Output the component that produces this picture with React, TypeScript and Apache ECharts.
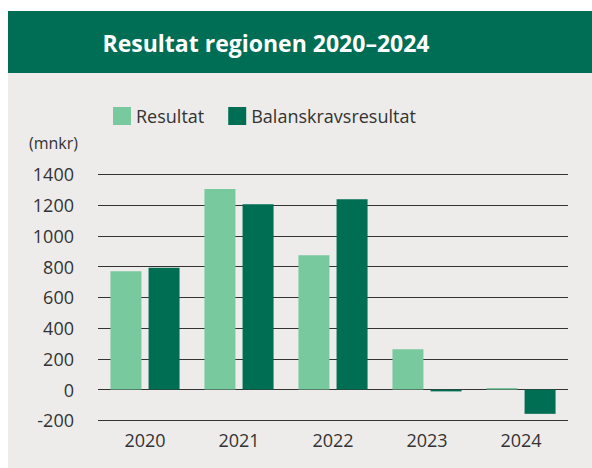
import React, { useEffect, useRef } from "react";
import * as echarts from "echarts";

const categories = ["2020", "2021", "2022", "2023", "2024"];
const resultat = [770, 1305, 873, 262, 10];
const balanskrav = [792, 1205, 1238, -12, -158];
const seriesNames = ["Resultat", "Balanskravsresultat"];
const titleText = "Resultat regionen 2020–2024";
const unitText = "(mnkr)";

const FONT = "'Open Sans', 'Noto Sans', sans-serif";

export default function App() {
  const ref = useRef<HTMLDivElement>(null);
  useEffect(() => {
    if (!ref.current) return;
    const chart = echarts.init(ref.current, undefined, { renderer: "svg" });
    chart.setOption({
      animation: false,
      backgroundColor: "#ffffff",
      textStyle: { fontFamily: FONT },
      graphic: [
        { type: "rect", z: -10, shape: { x: 8, y: 73, width: 584, height: 395 }, style: { fill: "#EDECEA" } },
        { type: "rect", z: -10, shape: { x: 8, y: 11, width: 584, height: 62 }, style: { fill: "#006D55" } },
        {
          type: "text", x: 266, y: 43,
          style: { text: titleText, fill: "#ffffff", font: `bold 23px ${FONT}`, textAlign: "center", textVerticalAlign: "middle" },
        },
        {
          type: "text", x: 29, y: 143,
          style: { text: unitText, fill: "#333333", font: `16px ${FONT}`, textAlign: "left", textVerticalAlign: "middle" },
        },
      ],
      legend: {
        left: 108, top: 102, itemWidth: 18, itemHeight: 18, itemGap: 24,
        icon: "rect",
        textStyle: { fontSize: 18, color: "#333333", fontFamily: FONT },
        data: seriesNames,
      },
      grid: { left: 98, right: 24, top: 174.3, bottom: 47.7, containLabel: false },
      xAxis: {
        type: "category",
        data: categories,
        axisLine: { show: false },
        axisTick: { show: false },
        axisLabel: { fontSize: 18, color: "#333333", margin: 11, fontFamily: FONT },
      },
      yAxis: {
        type: "value",
        min: -200, max: 1400, interval: 200,
        axisLine: { show: false },
        axisTick: { show: false },
        axisLabel: { fontSize: 18, color: "#333333", margin: 24, fontFamily: FONT, formatter: (v: number) => String(v) },
        splitLine: { lineStyle: { color: "#333333", width: 1 } },
      },
      series: [
        { name: seriesNames[0], type: "bar", data: resultat, barWidth: 31, barGap: "23%", itemStyle: { color: "#79C99E" } },
        { name: seriesNames[1], type: "bar", data: balanskrav, barWidth: 31, itemStyle: { color: "#006E52" } },
      ],
    });
    return () => chart.dispose();
  }, []);
  return <div ref={ref} style={{ position: "absolute", left: 0, top: 0, width: 592, height: 468 }} />;
}
